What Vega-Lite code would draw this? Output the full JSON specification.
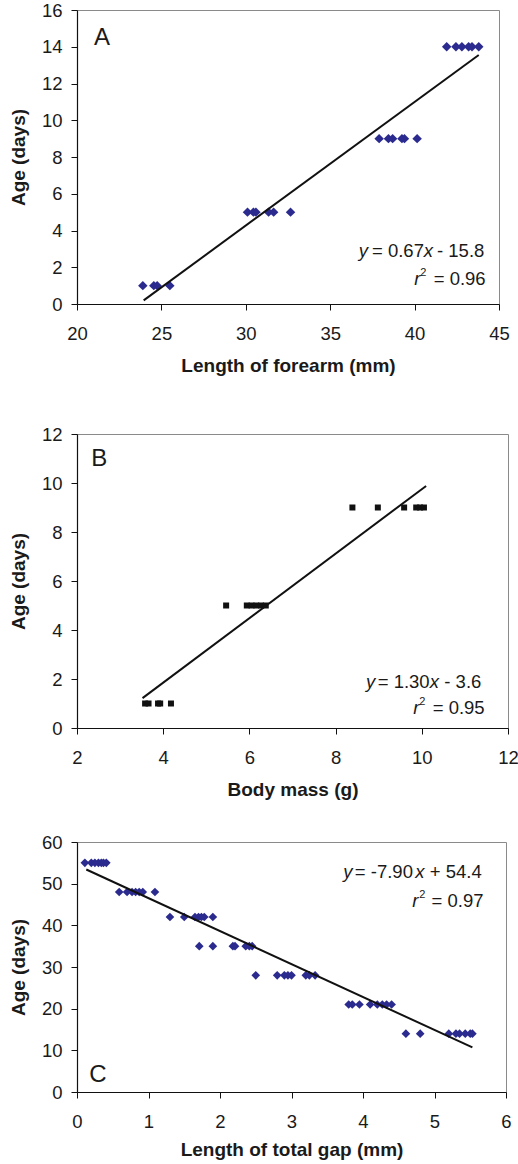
{
  "$schema": "https://vega.github.io/schema/vega-lite/v6.json",
  "padding": {"left": 8, "top": 0, "right": 5, "bottom": 2},
  "bounds": "flush",
  "spacing": 130,
  "config": {
    "font": "Liberation Sans",
    "view": {"stroke": "#8a8a8a", "strokeWidth": 1},
    "axis": {
      "grid": false, "domainColor": "#111", "domainWidth": 1.2, "tickColor": "#111", "tickSize": 6,
      "labelFont": "Liberation Sans", "labelFontSize": 18.5, "labelColor": "#1a1a1a", "labelFlush": false, "labelOverlap": false,
      "titleFont": "Liberation Sans", "titleFontSize": 19, "titleFontWeight": "bold", "titleColor": "#1a1a1a"
    },
    "axisX": {"labelPadding": 14, "titlePadding": 14},
    "axisY": {"labelPadding": 9, "titlePadding": 13},
    "text": {"font": "Liberation Sans", "fontSize": 18.5, "color": "#1a1a1a", "align": "left", "baseline": "alphabetic"}
  },
  "datasets": {
    "a_points": [
      {"length": 23.9, "age": 1}, {"length": 24.55, "age": 1}, {"length": 24.75, "age": 1}, {"length": 25.5, "age": 1},
      {"length": 30.1, "age": 5}, {"length": 30.45, "age": 5}, {"length": 30.6, "age": 5}, {"length": 31.35, "age": 5}, {"length": 31.65, "age": 5}, {"length": 32.65, "age": 5},
      {"length": 37.9, "age": 9}, {"length": 38.45, "age": 9}, {"length": 38.7, "age": 9}, {"length": 39.25, "age": 9}, {"length": 39.4, "age": 9}, {"length": 40.15, "age": 9},
      {"length": 41.9, "age": 14}, {"length": 42.45, "age": 14}, {"length": 42.8, "age": 14}, {"length": 43.2, "age": 14}, {"length": 43.4, "age": 14}, {"length": 43.8, "age": 14}
    ],
    "a_fit": [{"length": 23.95, "age": 0.2}, {"length": 43.8, "age": 13.55}],
    "b_points": [
      {"mass": 3.58, "age": 1}, {"mass": 3.66, "age": 1}, {"mass": 3.88, "age": 1}, {"mass": 3.93, "age": 1}, {"mass": 4.18, "age": 1},
      {"mass": 5.46, "age": 5}, {"mass": 5.94, "age": 5}, {"mass": 6.05, "age": 5}, {"mass": 6.16, "age": 5}, {"mass": 6.27, "age": 5}, {"mass": 6.38, "age": 5},
      {"mass": 8.39, "age": 9}, {"mass": 8.98, "age": 9}, {"mass": 9.59, "age": 9}, {"mass": 9.87, "age": 9}, {"mass": 9.96, "age": 9}, {"mass": 10.05, "age": 9}
    ],
    "b_fit": [{"mass": 3.52, "age": 1.22}, {"mass": 10.1, "age": 9.88}],
    "c_points": [
      {"gap": 0.11, "age": 55}, {"gap": 0.2, "age": 55}, {"gap": 0.25, "age": 55}, {"gap": 0.3, "age": 55}, {"gap": 0.34, "age": 55}, {"gap": 0.37, "age": 55}, {"gap": 0.41, "age": 55},
      {"gap": 0.59, "age": 48}, {"gap": 0.7, "age": 48}, {"gap": 0.77, "age": 48}, {"gap": 0.82, "age": 48}, {"gap": 0.87, "age": 48}, {"gap": 0.92, "age": 48}, {"gap": 1.09, "age": 48},
      {"gap": 1.3, "age": 42}, {"gap": 1.5, "age": 42}, {"gap": 1.65, "age": 42}, {"gap": 1.7, "age": 42}, {"gap": 1.74, "age": 42}, {"gap": 1.78, "age": 42}, {"gap": 1.9, "age": 42},
      {"gap": 1.71, "age": 35}, {"gap": 1.9, "age": 35}, {"gap": 2.18, "age": 35}, {"gap": 2.21, "age": 35}, {"gap": 2.36, "age": 35}, {"gap": 2.41, "age": 35}, {"gap": 2.45, "age": 35},
      {"gap": 2.5, "age": 28}, {"gap": 2.8, "age": 28}, {"gap": 2.9, "age": 28}, {"gap": 2.95, "age": 28}, {"gap": 3.0, "age": 28}, {"gap": 3.2, "age": 28}, {"gap": 3.25, "age": 28}, {"gap": 3.33, "age": 28},
      {"gap": 3.8, "age": 21}, {"gap": 3.85, "age": 21}, {"gap": 3.95, "age": 21}, {"gap": 4.1, "age": 21}, {"gap": 4.2, "age": 21}, {"gap": 4.27, "age": 21}, {"gap": 4.33, "age": 21}, {"gap": 4.4, "age": 21},
      {"gap": 4.6, "age": 14}, {"gap": 4.8, "age": 14}, {"gap": 5.2, "age": 14}, {"gap": 5.3, "age": 14}, {"gap": 5.35, "age": 14}, {"gap": 5.43, "age": 14}, {"gap": 5.5, "age": 14}, {"gap": 5.53, "age": 14}
    ],
    "c_fit": [{"gap": 0.13, "age": 53.4}, {"gap": 5.53, "age": 10.7}]
  },
  "vconcat": [
    {
      "width": 422, "height": 294,
      "layer": [
        {
          "data": {"name": "a_points"},
          "mark": {"type": "point", "shape": "diamond", "filled": true, "size": 90, "color": "#2B2B8F", "opacity": 1},
          "encoding": {
            "x": {"field": "length", "type": "quantitative", "title": "Length of forearm (mm)", "scale": {"domain": [20, 45], "nice": false, "zero": false}, "axis": {"values": [20, 25, 30, 35, 40, 45], "format": "d", "labelOverlap": false}},
            "y": {"field": "age", "type": "quantitative", "title": "Age (days)", "scale": {"domain": [0, 16], "nice": false}, "axis": {"values": [0, 2, 4, 6, 8, 10, 12, 14, 16], "format": "d", "labelOverlap": false, "tickCount": 9}}
          }
        },
        {
          "data": {"name": "a_fit"},
          "mark": {"type": "line", "color": "#111", "strokeWidth": 2},
          "encoding": {
            "x": {"field": "length", "type": "quantitative", "title": "Length of forearm (mm)", "axis": {"values": [20, 25, 30, 35, 40, 45], "format": "d", "labelOverlap": false}},
            "y": {"field": "age", "type": "quantitative", "title": "Age (days)", "axis": {"values": [0, 2, 4, 6, 8, 10, 12, 14, 16], "format": "d", "labelOverlap": false, "tickCount": 9}}
          }
        },
        {
          "data": {"values": [{}]},
          "layer": [
            {"mark": {"type": "text", "text": "A", "fontSize": 24}, "encoding": {"x": {"datum": 21.0, "type": "quantitative", "title": "Length of forearm (mm)", "axis": {"values": [20, 25, 30, 35, 40, 45], "format": "d", "labelOverlap": false}}, "y": {"datum": 14.11, "type": "quantitative", "title": "Age (days)", "axis": {"values": [0, 2, 4, 6, 8, 10, 12, 14, 16], "format": "d", "labelOverlap": false, "tickCount": 9}}}},
            {"mark": {"type": "text", "text": "y", "fontStyle": "italic", "dx": -127.3}, "encoding": {"x": {"datum": 44.23, "type": "quantitative"}, "y": {"datum": 2.54, "type": "quantitative"}}},
            {"mark": {"type": "text", "text": "= 0.67", "dx": -114}, "encoding": {"x": {"datum": 44.23, "type": "quantitative"}, "y": {"datum": 2.54, "type": "quantitative"}}},
            {"mark": {"type": "text", "text": "x", "fontStyle": "italic", "dx": -62.3}, "encoding": {"x": {"datum": 44.23, "type": "quantitative"}, "y": {"datum": 2.54, "type": "quantitative"}}},
            {"mark": {"type": "text", "text": "- 15.8", "dx": -49}, "encoding": {"x": {"datum": 44.23, "type": "quantitative"}, "y": {"datum": 2.54, "type": "quantitative"}}},
            {"mark": {"type": "text", "text": "r", "fontStyle": "italic", "dx": -71.7}, "encoding": {"x": {"datum": 44.23, "type": "quantitative"}, "y": {"datum": 1.02, "type": "quantitative"}}},
            {"mark": {"type": "text", "text": "2", "fontSize": 11, "dx": -65.7, "dy": -9}, "encoding": {"x": {"datum": 44.23, "type": "quantitative"}, "y": {"datum": 1.02, "type": "quantitative"}}},
            {"mark": {"type": "text", "text": "= 0.96", "dx": -52.3}, "encoding": {"x": {"datum": 44.23, "type": "quantitative"}, "y": {"datum": 1.02, "type": "quantitative"}}}
          ]
        }
      ]
    },
    {
      "bounds": "flush",
      "spacing": 114,
      "vconcat": [
        {
          "width": 431, "height": 294,
          "layer": [
            {
              "data": {"name": "b_points"},
              "mark": {"type": "point", "shape": "square", "filled": true, "size": 36, "color": "#111", "opacity": 1},
              "encoding": {
                "x": {"field": "mass", "type": "quantitative", "title": "Body mass (g)", "scale": {"domain": [2, 12], "nice": false, "zero": false}, "axis": {"values": [2, 4, 6, 8, 10, 12], "format": "d", "labelOverlap": false}},
                "y": {"field": "age", "type": "quantitative", "title": "Age (days)", "scale": {"domain": [0, 12], "nice": false}, "axis": {"values": [0, 2, 4, 6, 8, 10, 12], "format": "d", "labelOverlap": false}}
              }
            },
            {
              "data": {"name": "b_fit"},
              "mark": {"type": "line", "color": "#111", "strokeWidth": 2},
              "encoding": {
                "x": {"field": "mass", "type": "quantitative", "title": "Body mass (g)", "axis": {"values": [2, 4, 6, 8, 10, 12], "format": "d", "labelOverlap": false}},
                "y": {"field": "age", "type": "quantitative", "title": "Age (days)", "axis": {"values": [0, 2, 4, 6, 8, 10, 12], "format": "d", "labelOverlap": false}}
              }
            },
            {
              "data": {"values": [{}]},
              "layer": [
                {"mark": {"type": "text", "text": "B", "fontSize": 24}, "encoding": {"x": {"datum": 2.33, "type": "quantitative", "title": "Body mass (g)", "axis": {"values": [2, 4, 6, 8, 10, 12], "format": "d", "labelOverlap": false}}, "y": {"datum": 10.69, "type": "quantitative", "title": "Age (days)", "axis": {"values": [0, 2, 4, 6, 8, 10, 12], "format": "d", "labelOverlap": false}}}},
                {"mark": {"type": "text", "text": "y", "fontStyle": "italic", "dx": -118.3}, "encoding": {"x": {"datum": 11.45, "type": "quantitative"}, "y": {"datum": 1.62, "type": "quantitative"}}},
                {"mark": {"type": "text", "text": "= 1.30", "dx": -106.6}, "encoding": {"x": {"datum": 11.45, "type": "quantitative"}, "y": {"datum": 1.62, "type": "quantitative"}}},
                {"mark": {"type": "text", "text": "x", "fontStyle": "italic", "dx": -54.5}, "encoding": {"x": {"datum": 11.45, "type": "quantitative"}, "y": {"datum": 1.62, "type": "quantitative"}}},
                {"mark": {"type": "text", "text": "- 3.6", "dx": -40}, "encoding": {"x": {"datum": 11.45, "type": "quantitative"}, "y": {"datum": 1.62, "type": "quantitative"}}},
                {"mark": {"type": "text", "text": "r", "fontStyle": "italic", "dx": -71}, "encoding": {"x": {"datum": 11.45, "type": "quantitative"}, "y": {"datum": 0.57, "type": "quantitative"}}},
                {"mark": {"type": "text", "text": "2", "fontSize": 11, "dx": -65, "dy": -9}, "encoding": {"x": {"datum": 11.45, "type": "quantitative"}, "y": {"datum": 0.57, "type": "quantitative"}}},
                {"mark": {"type": "text", "text": "= 0.95", "dx": -51.6}, "encoding": {"x": {"datum": 11.45, "type": "quantitative"}, "y": {"datum": 0.57, "type": "quantitative"}}}
              ]
            }
          ]
        },
        {
          "width": 429, "height": 250,
          "layer": [
            {
              "data": {"name": "c_points"},
              "mark": {"type": "point", "shape": "diamond", "filled": true, "size": 75, "color": "#2B2B8F", "opacity": 1},
              "encoding": {
                "x": {"field": "gap", "type": "quantitative", "title": "Length of total gap (mm)", "scale": {"domain": [0, 6], "nice": false}, "axis": {"values": [0, 1, 2, 3, 4, 5, 6], "format": "d", "titlePadding": 10, "labelOverlap": false}},
                "y": {"field": "age", "type": "quantitative", "title": "Age (days)", "scale": {"domain": [0, 60], "nice": false}, "axis": {"values": [0, 10, 20, 30, 40, 50, 60], "format": "d", "labelOverlap": false}}
              }
            },
            {
              "data": {"name": "c_fit"},
              "mark": {"type": "line", "color": "#111", "strokeWidth": 2},
              "encoding": {
                "x": {"field": "gap", "type": "quantitative", "title": "Length of total gap (mm)", "axis": {"values": [0, 1, 2, 3, 4, 5, 6], "format": "d", "titlePadding": 10, "labelOverlap": false}},
                "y": {"field": "age", "type": "quantitative", "title": "Age (days)", "axis": {"values": [0, 10, 20, 30, 40, 50, 60], "format": "d", "labelOverlap": false}}
              }
            },
            {
              "data": {"values": [{}]},
              "layer": [
                {"mark": {"type": "text", "text": "C", "fontSize": 24}, "encoding": {"x": {"datum": 0.17, "type": "quantitative", "title": "Length of total gap (mm)", "axis": {"values": [0, 1, 2, 3, 4, 5, 6], "format": "d", "titlePadding": 10, "labelOverlap": false}}, "y": {"datum": 2.4, "type": "quantitative", "title": "Age (days)", "axis": {"values": [0, 10, 20, 30, 40, 50, 60], "format": "d", "labelOverlap": false}}}},
                {"mark": {"type": "text", "text": "y", "fontStyle": "italic", "dx": -140.7}, "encoding": {"x": {"datum": 5.69, "type": "quantitative"}, "y": {"datum": 51.28, "type": "quantitative"}}},
                {"mark": {"type": "text", "text": "= -7.90", "dx": -129}, "encoding": {"x": {"datum": 5.69, "type": "quantitative"}, "y": {"datum": 51.28, "type": "quantitative"}}},
                {"mark": {"type": "text", "text": "x", "fontStyle": "italic", "dx": -68.5}, "encoding": {"x": {"datum": 5.69, "type": "quantitative"}, "y": {"datum": 51.28, "type": "quantitative"}}},
                {"mark": {"type": "text", "text": "+ 54.4", "dx": -54}, "encoding": {"x": {"datum": 5.69, "type": "quantitative"}, "y": {"datum": 51.28, "type": "quantitative"}}},
                {"mark": {"type": "text", "text": "r", "fontStyle": "italic", "dx": -71.7}, "encoding": {"x": {"datum": 5.69, "type": "quantitative"}, "y": {"datum": 44.3, "type": "quantitative"}}},
                {"mark": {"type": "text", "text": "2", "fontSize": 11, "dx": -64.7, "dy": -9}, "encoding": {"x": {"datum": 5.69, "type": "quantitative"}, "y": {"datum": 44.3, "type": "quantitative"}}},
                {"mark": {"type": "text", "text": "= 0.97", "dx": -52.3}, "encoding": {"x": {"datum": 5.69, "type": "quantitative"}, "y": {"datum": 44.3, "type": "quantitative"}}}
              ]
            }
          ]
        }
      ]
    }
  ]
}
